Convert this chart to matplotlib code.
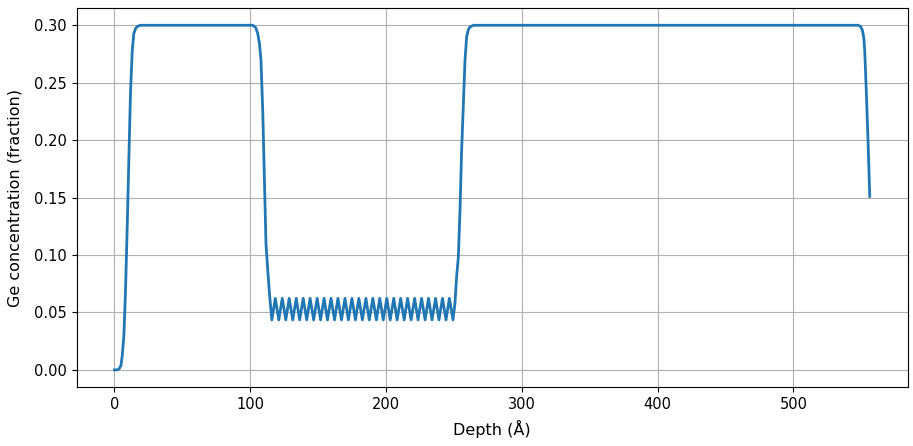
"""Ge concentration depth profile with a graded superlattice region."""

import matplotlib
matplotlib.use("Agg")
import matplotlib.pyplot as plt
import numpy as np

# Surface rise, first 0.30 plateau and drop into the superlattice
lead_depth = [0.0, 2.0, 3.5, 4.8, 5.7, 6.9, 8.1, 9.4, 10.6, 11.8, 13.1, 14.3,
              15.5, 16.8, 19.2, 101.8, 104.0, 105.5, 106.8, 107.9, 109.2,
              110.4, 111.6, 112.9, 114.2]
lead_conc = [0.0, 0.0, 0.001, 0.004, 0.012, 0.029, 0.067, 0.125, 0.183, 0.241,
             0.278, 0.293, 0.297, 0.299, 0.300, 0.300, 0.298, 0.293, 0.284,
             0.270, 0.226, 0.168, 0.110, 0.087, 0.066]

# Superlattice oscillation: minima and maxima
trough_depth = [115.9, 121.0, 126.2, 131.3, 136.4, 141.6, 146.7, 151.8, 156.9,
                162.1, 167.2, 172.3, 177.5, 182.6, 187.7, 192.9, 198.0, 203.1,
                208.2, 213.4, 218.5, 223.6, 228.8, 233.9, 239.0, 244.2, 249.3]
peak_depth = [118.5, 123.6, 128.7, 133.9, 139.0, 144.1, 149.3, 154.4, 159.5,
              164.6, 169.8, 174.9, 180.0, 185.2, 190.3, 195.4, 200.6, 205.7,
              210.8, 215.9, 221.1, 226.2, 231.3, 236.5, 241.6, 246.7]
trough_conc = 0.0435
peak_conc = 0.0623

# Rise out of the superlattice, cap plateau and final edge
tail_depth = [250.8, 252.0, 253.3, 254.5, 255.7, 257.0, 258.2, 259.4, 260.6,
              261.9, 264.4, 547.7, 549.5, 550.9, 552.0, 552.6, 553.8, 555.1,
              556.3]
tail_conc = [0.058, 0.081, 0.0986, 0.139, 0.191, 0.232, 0.270, 0.290, 0.296,
             0.2985, 0.300, 0.300, 0.299, 0.2957, 0.288, 0.278, 0.241, 0.197,
             0.151]


def build_profile():
    osc_depth, osc_conc = [], []
    for i, td in enumerate(trough_depth):
        osc_depth.append(td)
        osc_conc.append(trough_conc)
        if i < len(peak_depth):
            osc_depth.append(peak_depth[i])
            osc_conc.append(peak_conc)
    depth = np.array(lead_depth + osc_depth + tail_depth)
    conc = np.array(lead_conc + osc_conc + tail_conc)
    return depth, conc


def main():
    depth, conc = build_profile()

    fig = plt.figure(figsize=(9.13, 4.46), dpi=100)
    ax = fig.add_axes([0.084, 0.132, 0.910, 0.850])
    ax.plot(depth, conc, color="#1f77b4", linewidth=2)
    ax.set_xlabel("Depth (Å)", fontsize=11.5, labelpad=6)
    ax.set_ylabel("Ge concentration (fraction)", fontsize=11.5, labelpad=8)
    ax.tick_params(labelsize=10.5)
    ax.grid(True)

    fig.savefig("out.png", dpi=100)
    plt.close(fig)


if __name__ == "__main__":
    main()
